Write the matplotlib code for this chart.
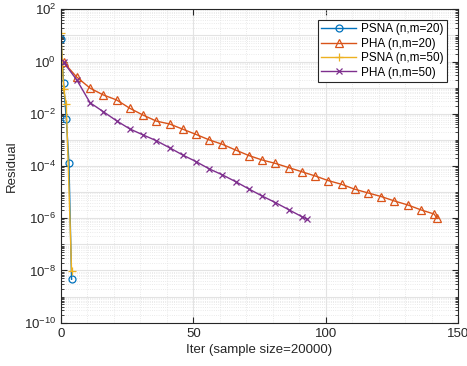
import matplotlib
matplotlib.use('Agg')
import matplotlib.pyplot as plt
from matplotlib.ticker import LogLocator, MultipleLocator, NullFormatter
import numpy as np

# 数据
psna20_iter = [0, 1, 2, 3, 4]
psna20_res = [7.3, 0.15, 6.2e-3, 1.35e-4, 4.6e-9]

pha20_iter = [1, 6, 11, 16, 21, 26, 31, 36, 41, 46, 51, 56, 61, 66, 71, 76, 81, 86, 91, 96,
              101, 106, 111, 116, 121, 126, 131, 136, 141, 142]
pha20_log = [-0.03, -0.60, -1.02, -1.28, -1.47, -1.79, -2.05, -2.28, -2.39, -2.59,
             -2.79, -3.00, -3.17, -3.39, -3.60, -3.77, -3.90, -4.06, -4.22, -4.38,
             -4.56, -4.70, -4.89, -5.03, -5.17, -5.34, -5.49, -5.68, -5.84, -6.00]

psna50_iter = [0, 1, 2, 4]
psna50_res = [12.0, 0.087, 0.023, 9.8e-9]

pha50_iter = [1, 6, 11, 16, 21, 26, 31, 36, 41, 46, 51, 56, 61, 66, 71, 76, 81, 86, 91, 93]
pha50_log = [-0.03, -0.71, -1.58, -1.92, -2.27, -2.58, -2.81, -3.03, -3.30, -3.58,
             -3.83, -4.11, -4.34, -4.60, -4.88, -5.15, -5.40, -5.67, -5.94, -6.04]

labels = ['PSNA (n,m=20)', 'PHA (n,m=20)', 'PSNA (n,m=50)', 'PHA (n,m=50)']
colors = ['#0072BD', '#D95319', '#EDB120', '#7E2F8E']

plt.rcParams['font.family'] = ['Liberation Sans', 'DejaVu Sans']
plt.rcParams['font.size'] = 9.5

fig = plt.figure(figsize=(4.67, 3.66), dpi=100)
ax = fig.add_axes([0.1306, 0.1183, 0.8501, 0.8563])

ax.plot(psna20_iter, psna20_res, '-o', color=colors[0], lw=1, ms=5,
        mfc='none', mew=0.9, label=labels[0])
ax.plot(pha20_iter, 10 ** np.array(pha20_log), '-^', color=colors[1], lw=1, ms=5.5,
        mfc='none', mew=0.9, label=labels[1])
ax.plot(psna50_iter, psna50_res, '-+', color=colors[2], lw=1, ms=6,
        mew=0.9, label=labels[2])
ax.plot(pha50_iter, 10 ** np.array(pha50_log), '-x', color=colors[3], lw=1, ms=4,
        mew=0.9, label=labels[3])

ax.set_yscale('log')
ax.set_xlim(0, 150)
ax.set_ylim(1e-10, 1e2)
ax.xaxis.set_major_locator(MultipleLocator(50))
ax.xaxis.set_minor_locator(MultipleLocator(10))
ax.set_yticks([10.0 ** k for k in range(-10, 3, 2)])
ax.yaxis.set_minor_locator(LogLocator(base=10, subs=np.arange(1, 10) * 1.0, numticks=50))
ax.yaxis.set_minor_formatter(NullFormatter())

# 网格
ax.grid(True, which='major', color='#e3e3e3', lw=0.8, ls='-')
ax.grid(True, which='minor', color='#e3e3e3', lw=0.6, ls=':')
for y in range(-9, 3, 2):
    ax.axhline(10.0 ** y, color='#e3e3e3', lw=0.8, zorder=0)
ax.set_axisbelow(True)

ax.tick_params(which='both', direction='in', top=True, right=True, colors='#262626')
ax.tick_params(which='major', length=4)
ax.tick_params(which='minor', length=2)
ax.tick_params(axis='x', which='minor', length=0)
for s in ax.spines.values():
    s.set_color('#262626')
    s.set_linewidth(0.8)

ax.set_xlabel('Iter (sample size=20000)', color='#262626', labelpad=3)
ax.set_ylabel('Residual', color='#262626', labelpad=4)

leg = ax.legend(loc='upper right', fontsize=8.5, fancybox=False, framealpha=1,
                edgecolor='#262626', borderpad=0.3, labelspacing=0.2,
                handlelength=3.0, handletextpad=0.4, borderaxespad=0.9)
leg.get_frame().set_linewidth(0.8)

fig.savefig('out.png', dpi=100)
